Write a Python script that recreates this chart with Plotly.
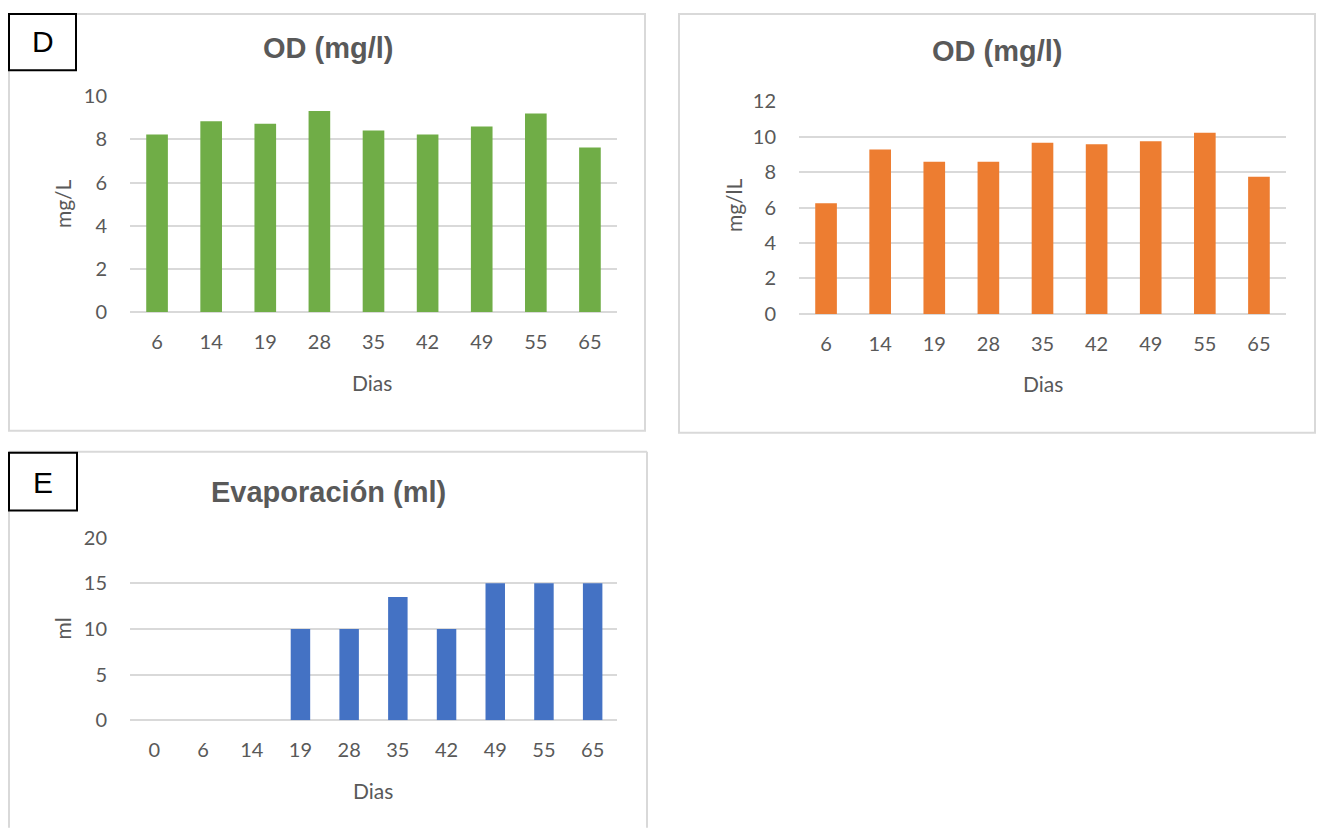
import plotly.graph_objects as go

W, H = 1319, 834

# ---- data ----
dias_od = ["6", "14", "19", "28", "35", "42", "49", "55", "65"]
od_green = [8.23, 8.84, 8.73, 9.32, 8.41, 8.23, 8.60, 9.20, 7.62]
od_orange = [6.25, 9.28, 8.58, 8.58, 9.66, 9.58, 9.75, 10.23, 7.74]
dias_evap = ["0", "6", "14", "19", "28", "35", "42", "49", "55", "65"]
evap = [0, 0, 0, 10, 10, 13.5, 10, 15, 15, 15]

GREEN = "#70AD47"
ORANGE = "#ED7D31"
BLUE = "#4472C4"
TXT = "#595959"
GRID = "#D9D9D9"
TICKFONT = dict(family="Lato, Carlito, sans-serif", size=20, color=TXT)

# vertical calibration of the rendered page
VA, VB = 11.6, 0.9728


def px(x):
    return x / W


def py(y, lo=1, hi=H - 1):
    t = (y - VA) / VB
    t = min(max(t, lo), hi)
    return 1 - t / H


fig = go.Figure()

fig.add_trace(go.Bar(x=dias_od, y=od_green, marker=dict(color=GREEN, line=dict(width=0)),
                     width=0.4, xaxis="x", yaxis="y", showlegend=False))
fig.add_trace(go.Bar(x=dias_od, y=od_orange, marker=dict(color=ORANGE, line=dict(width=0)),
                     width=0.4, xaxis="x2", yaxis="y2", showlegend=False))
fig.add_trace(go.Bar(x=dias_evap, y=evap, marker=dict(color=BLUE, line=dict(width=0)),
                     width=0.4, xaxis="x3", yaxis="y3", showlegend=False))


def xax(x0, x1, anchor):
    return dict(domain=[px(x0), px(x1)], anchor=anchor, type="category",
                showgrid=False, showline=False, zeroline=False,
                ticks="outside", ticklen=12, tickcolor="rgba(0,0,0,0)",
                tickfont=TICKFONT, fixedrange=True)


def yax(y0, y1, rng, dtick, anchor):
    return dict(domain=[py(y0), py(y1)], anchor=anchor, range=rng, dtick=dtick,
                showgrid=True, gridcolor=GRID, gridwidth=1.5,
                zeroline=True, zerolinecolor=GRID, zerolinewidth=1.5,
                showline=False, ticks="outside", ticklen=18,
                tickcolor="rgba(0,0,0,0)", tickfont=TICKFONT, fixedrange=True)


layout = dict(
    width=W, height=H, margin=dict(l=0, r=0, t=0, b=0),
    paper_bgcolor="white", plot_bgcolor="white", bargap=0.6,
    xaxis=xax(130, 617, "y"),
    yaxis=yax(311, 95, [0, 10], 2, "x"),
    xaxis2=xax(799, 1286, "y2"),
    yaxis2=yax(313, 100, [0, 12], 2, "x2"),
    xaxis3=xax(130, 617, "y3"),
    yaxis3=yax(720, 537, [0, 20], 5, "x3"),
)
fig.update_layout(**layout)

shapes = []
# outer chart frames
for (x0, y0, x1, y1) in [(9, 9, 645, 430), (679, 11, 1315, 432)]:
    shapes.append(dict(type="rect", xref="paper", yref="paper",
                       x0=px(x0), x1=px(x1), y0=py(y0), y1=py(y1),
                       line=dict(color=GRID, width=2), fillcolor="rgba(0,0,0,0)", layer="below"))
# bottom frame runs off the page: draw only left, top and right edges
ybot = py(900, hi=H + 5)
for (x0, y0, x1, y1) in [(9, 451, 9, None), (9, 451, 647, 451), (647, 451, 647, None)]:
    shapes.append(dict(type="line", xref="paper", yref="paper",
                       x0=px(x0), x1=px(x1), y0=py(y0), y1=ybot if y1 is None else py(y1),
                       line=dict(color=GRID, width=2), layer="below"))
# label boxes
for (x0, y0, x1, y1) in [(9, 10, 76, 69), (9, 452, 77, 510)]:
    shapes.append(dict(type="rect", xref="paper", yref="paper",
                       x0=px(x0), x1=px(x1), y0=py(y0), y1=py(y1),
                       line=dict(color="black", width=2), fillcolor="white"))
fig.update_layout(shapes=shapes)

TITLEFONT = dict(family="Liberation Sans, Arial, sans-serif", size=29, color=TXT)
AXT = dict(family="Lato, Carlito, sans-serif", size=21, color=TXT)
annos = [
    dict(text="<b>OD (mg/l)</b>", x=px(328), y=py(47), font=TITLEFONT),
    dict(text="<b>OD (mg/l)</b>", x=px(997), y=py(50), font=TITLEFONT),
    dict(text="<b>Evaporación (ml)</b>", x=px(328), y=py(491), font=TITLEFONT),
    dict(text="D", x=px(42.5), y=py(40), font=dict(family="Liberation Sans, Arial", size=30, color="black")),
    dict(text="E", x=px(43), y=py(482), font=dict(family="Liberation Sans, Arial", size=30, color="black")),
    dict(text="Dias", x=px(372), y=py(382), font=AXT),
    dict(text="Dias", x=px(1043), y=py(383), font=AXT),
    dict(text="Dias", x=px(373), y=py(790), font=AXT),
    dict(text="mg/L", x=px(62), y=py(203), font=AXT, textangle=-90),
    dict(text="mg/lL", x=px(733), y=py(205), font=AXT, textangle=-90),
    dict(text="ml", x=px(62), y=py(628), font=AXT, textangle=-90),
]
for a in annos:
    a.update(xref="paper", yref="paper", showarrow=False, xanchor="center", yanchor="middle")
fig.update_layout(annotations=annos)

fig.write_html("out.html", config={"displayModeBar": False},
               post_script="document.body.style.margin='0';document.body.style.overflow='hidden';")
